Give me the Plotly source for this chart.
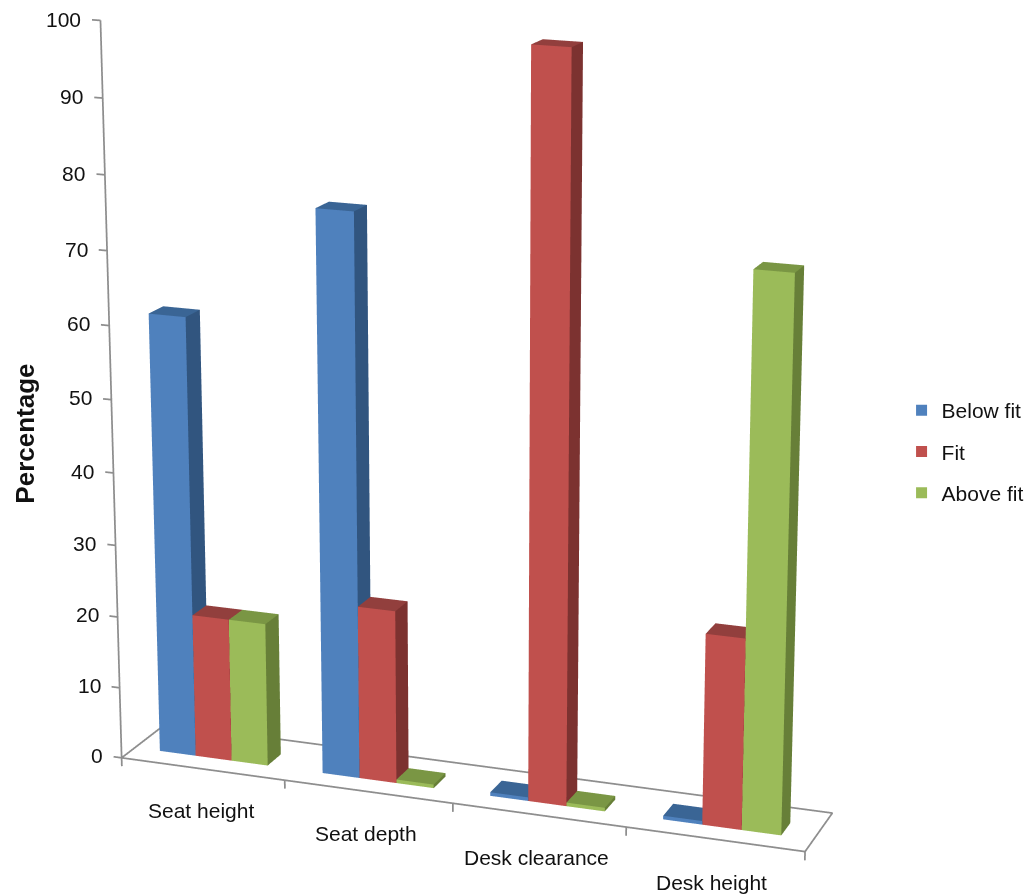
import numpy as np
import plotly.graph_objects as go

categories = ["Seat height", "Seat depth", "Desk clearance", "Desk height"]
below_fit = [61, 77, 0.5, 0.5]
fit = [20, 24, 100, 26]
above_fit = [20, 0.5, 0.5, 74]
value_ticks = list(range(0, 101, 10))

W, H = 1029, 894
FONT = "Liberation Sans, Arial, sans-serif"
AXIS_GREY = "#8e8e8e"

series = [
    ("Below fit", below_fit, "#4f81bd", "#3a6595", "#31557f"),
    ("Fit", fit, "#c0504d", "#923f3d", "#7c3230"),
    ("Above fit", above_fit, "#9bbb59", "#7a9644", "#677f38"),
]

# Chart box (category, depth, value/100) -> page pixel: projective view fitted from the box corners
box_pts = np.array([[0, 0, 0], [1, 0, 0], [2, 0, 0], [3, 0, 0], [4, 0, 0], [0, 1, 0], [4, 1, 0], [0, 0, 1], [4, 0, 1]], float)
px_pts = np.array([[122, 758], [284, 780], [451, 802], [626, 827], [805, 853], [165, 725], [832, 812], [100, 20], [825, 71]], float)
rows = []
for (a, b, c), (u, v) in zip(box_pts, px_pts):
    rows.append([a, b, c, 1, 0, 0, 0, 0, -u * a, -u * b, -u * c, -u])
    rows.append([0, 0, 0, 0, a, b, c, 1, -v * a, -v * b, -v * c, -v])
P = np.linalg.svd(np.array(rows))[2][-1].reshape(3, 4)
P = P / (P[2] @ np.array([2, 0.5, 0.5, 1]))

EYE = 1.5
F = (H / 2) / np.tan(np.pi / 8)
CX, CY = W / 2 - 7.5, H / 2


def to_scene(cat, depth, val):
    """Map category position, depth and percentage into scene coordinates."""
    q = np.stack([np.asarray(cat, float), np.asarray(depth, float), np.asarray(val, float) / 100,
                  np.ones_like(np.asarray(cat, float))])
    u, v, w = P @ q
    return EYE * (u - CX * w) / F, EYE * (w - 1), -EYE * (v - CY * w) / F


fig = go.Figure()
BAR_W, BAR_X0, D0, D1 = 0.222, 0.155, 0.30, 0.62
for s, (name, vals, front, top, side) in enumerate(series):
    xs, ys, zs, i, j, k, fc = [], [], [], [], [], [], []
    for c, val in enumerate(vals):
        x0 = c + BAR_X0 + s * BAR_W
        x1 = x0 + BAR_W
        n = len(xs)
        xs += [x0, x1, x1, x0, x0, x1, x1, x0]
        ys += [D0, D0, D1, D1, D0, D0, D1, D1]
        zs += [0, 0, 0, 0, val, val, val, val]
        for tri, col in [((0, 1, 5), front), ((0, 5, 4), front), ((4, 5, 6), top), ((4, 6, 7), top),
                         ((1, 2, 6), side), ((1, 6, 5), side)]:
            i.append(n + tri[0]); j.append(n + tri[1]); k.append(n + tri[2]); fc.append(col)
    X, Y, Z = to_scene(xs, ys, zs)
    fig.add_trace(go.Mesh3d(x=X, y=Y, z=Z, i=i, j=j, k=k, facecolor=fc, flatshading=True,
                            lighting=dict(ambient=1, diffuse=0, specular=0, fresnel=0, roughness=1),
                            showlegend=False, hoverinfo="skip"))
    fig.add_trace(go.Scatter3d(x=[None], y=[None], z=[None], mode="markers", name=name, showlegend=True,
                               legendgroup=name, marker=dict(symbol="square", size=11, color=front)))


def line(cat, depth, val):
    X, Y, Z = to_scene(cat, depth, val)
    fig.add_trace(go.Scatter3d(x=X, y=Y, z=Z, mode="lines", line=dict(color=AXIS_GREY, width=3.5),
                               showlegend=False, hoverinfo="skip"))


line([0, 0], [0, 0], [0, 100])
line([0, 4, 4, 0, 0], [0, 0, 1, 1, 0], [0, 0, 0, 0, 0])
for t in value_ticks:
    line([0, -0.05], [0, 0], [t, t])
for c in range(len(categories) + 1):
    line([c, c], [0, 0], [0, -1.2])

ann = []
for t in value_ticks:
    X, Y, Z = to_scene([-0.105], [0], [t])
    ann.append(dict(x=X[0], y=Y[0], z=Z[0], text=str(t), showarrow=False, xanchor="right", yanchor="middle",
                    font=dict(family=FONT, size=21, color="#111111")))
for c, name in enumerate(categories):
    X, Y, Z = to_scene([c + 0.485], [0], [-6.0])
    ann.append(dict(x=X[0], y=Y[0], z=Z[0], text=name, showarrow=False, xanchor="center", yanchor="middle",
                    font=dict(family=FONT, size=21, color="#111111")))

hidden = dict(visible=False, range=[-1, 1], autorange=False, showgrid=False, zeroline=False,
              showspikes=False, showbackground=False)
fig.update_layout(
    width=W, height=H, margin=dict(l=0, r=0, t=0, b=0), paper_bgcolor="white",
    font=dict(family=FONT),
    scene=dict(domain=dict(x=[0, 1], y=[0, 1]), xaxis=hidden, yaxis=hidden, zaxis=hidden,
               aspectmode="manual", aspectratio=dict(x=2, y=2, z=2), bgcolor="white",
               camera=dict(eye=dict(x=0, y=-EYE, z=0), center=dict(x=0, y=0, z=0), up=dict(x=0, y=0, z=1),
                           projection=dict(type="perspective")),
               annotations=ann),
    legend=dict(x=914 / W, y=1 - 390 / H, xanchor="left", yanchor="top", bgcolor="rgba(0,0,0,0)",
                traceorder="grouped", tracegroupgap=11, font=dict(family=FONT, size=21, color="#111111")),
    annotations=[dict(text="<b>Percentage</b>", x=25 / W, y=1 - 434 / H, xref="paper", yref="paper",
                      xanchor="center", yanchor="middle", textangle=-90, showarrow=False,
                      font=dict(family=FONT, size=26, color="#111111"))],
)
fig.write_html("out.html", post_script="document.body.style.margin='0';", config=dict(displayModeBar=False))
